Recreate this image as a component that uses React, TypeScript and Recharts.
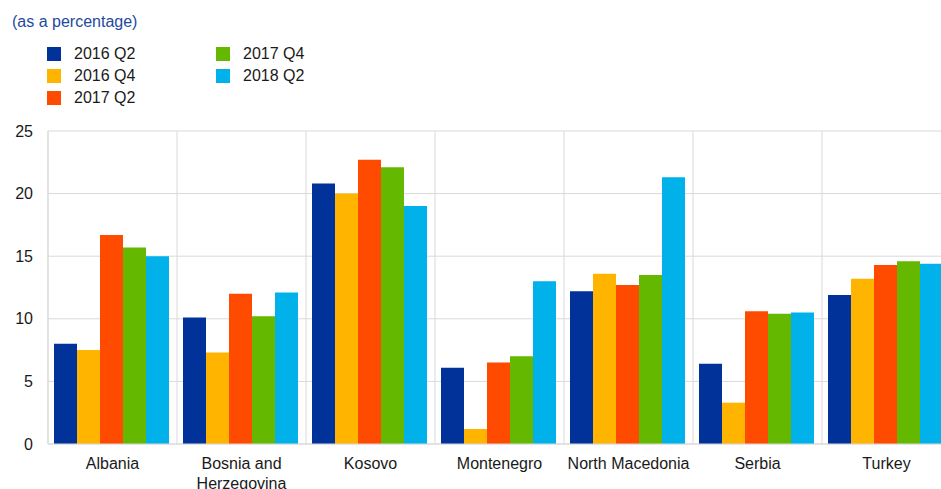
import React from 'react';
import { BarChart, Bar, XAxis, YAxis, CartesianGrid } from 'recharts';

const categories = ['Albania', 'Bosnia and Herzegovina', 'Kosovo', 'Montenegro', 'North Macedonia', 'Serbia', 'Turkey'];

const q2_2016 = [8.0, 10.1, 20.8, 6.1, 12.2, 6.4, 11.9];
const q4_2016 = [7.5, 7.3, 20.0, 1.2, 13.6, 3.3, 13.2];
const q2_2017 = [16.7, 12.0, 22.7, 6.5, 12.7, 10.6, 14.3];
const q4_2017 = [15.7, 10.2, 22.1, 7.0, 13.5, 10.4, 14.6];
const q2_2018 = [15.0, 12.1, 19.0, 13.0, 21.3, 10.5, 14.4];

const series = [
  { key: 's1', name: '2016 Q2', values: q2_2016, color: '#003299' },
  { key: 's2', name: '2016 Q4', values: q4_2016, color: '#FFB400' },
  { key: 's3', name: '2017 Q2', values: q2_2017, color: '#FF4B00' },
  { key: 's4', name: '2017 Q4', values: q4_2017, color: '#65B800' },
  { key: 's5', name: '2018 Q2', values: q2_2018, color: '#00B1EA' },
];

const yTicks = [0, 5, 10, 15, 20, 25];

const FONT = '"Liberation Sans", Arial, sans-serif';
const TEXT = '#1a1a1a';
const GRID = '#d9d9d9';

// one row per country, one field per series
const chartData = categories.map((name, i) => {
  const row: any = { name, idx: i + 0.5 };
  series.forEach(s => { row[s.key] = s.values[i]; });
  return row;
});

// naive word wrap for long country names
const wrap = (label: string, max = 16) => {
  const lines: string[] = [];
  let cur = '';
  label.split(' ').forEach(w => {
    if (cur && (cur + ' ' + w).length > max) {
      lines.push(cur);
      cur = w;
    } else {
      cur = cur ? cur + ' ' + w : w;
    }
  });
  if (cur) lines.push(cur);
  return lines;
};

const CountryTick = ({ x, y, payload }: any) => {
  const lines = wrap(String(payload.value));
  return (
    <text x={x} y={y} textAnchor="middle" fontSize={16} fontFamily={FONT} fill={TEXT}>
      {lines.map((l, i) => (
        <tspan key={i} x={x} dy={i === 0 ? '0.71em' : '1.2em'}>{l}</tspan>
      ))}
    </text>
  );
};

export default function App() {
  return (
    <div style={{ position: 'fixed', left: 0, top: 0, width: 941, height: 489, overflow: 'hidden', background: '#fff', fontFamily: FONT }}>
      <div style={{ position: 'absolute', left: 12, top: 13, fontSize: 16, color: '#1e4aa0' }}>
        (as a percentage)
      </div>

      {/* legend, filled column-wise, three rows */}
      {series.map((s, i) => {
        const col = Math.floor(i / 3);
        const row = i % 3;
        return (
          <div
            key={s.key}
            style={{
              position: 'absolute',
              left: 47 + col * 169,
              top: 45 + row * 22,
              height: 18,
              display: 'flex',
              alignItems: 'center',
              fontSize: 16,
              color: TEXT,
            }}
          >
            <span style={{ width: 14, height: 14, background: s.color, display: 'inline-block', marginRight: 13 }} />
            <span>{s.name}</span>
          </div>
        );
      })}

      <div style={{ position: 'absolute', left: 0, top: 0 }}>
        <BarChart
          width={960}
          height={489}
          data={chartData}
          margin={{ top: 131, right: 9, bottom: 15, left: 8 }}
          barCategoryGap={6}
          barGap={0}
        >
          <XAxis xAxisId="grid" type="number" dataKey="idx" domain={[0, 7]} ticks={[0, 1, 2, 3, 4, 5, 6, 7]} hide />
          <CartesianGrid xAxisId="grid" stroke={GRID} strokeWidth={1} />
          <XAxis
            dataKey="name"
            interval={0}
            height={30}
            tickSize={0}
            tickMargin={14}
            tickLine={false}
            axisLine={{ stroke: GRID }}
            tick={<CountryTick />}
          />
          <YAxis
            width={40}
            domain={[0, 25]}
            ticks={yTicks}
            tickSize={0}
            tickMargin={15}
            tickLine={false}
            axisLine={{ stroke: GRID }}
            tick={{ fontSize: 16, fontFamily: FONT, fill: TEXT }}
          />
          {series.map(s => (
            <Bar key={s.key} dataKey={s.key} name={s.name} fill={s.color} isAnimationActive={false} />
          ))}
        </BarChart>
      </div>
    </div>
  );
}
